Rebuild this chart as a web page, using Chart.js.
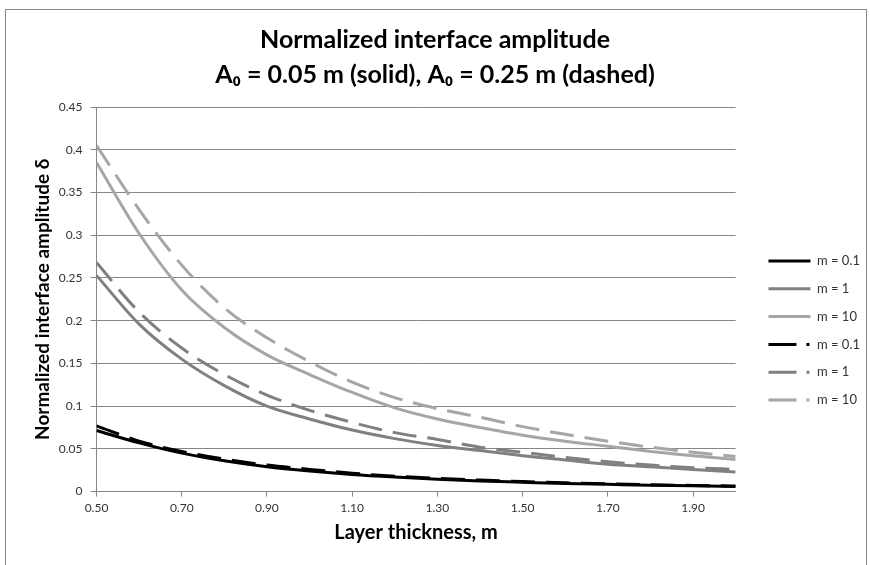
<!DOCTYPE html>
<html>
<head>
<meta charset="utf-8">
<script src="https://cdn.jsdelivr.net/npm/chart.js@4"></script>
<style>
  html, body { margin: 0; padding: 0; background: #fff; }
  #wrap { width: 870px; height: 565px; position: relative; }
</style>
</head>
<body>
<div id="wrap"><canvas id="myChart"></canvas></div>
<script>
// layer thickness (m) where the curves are sampled
const thickness = [0.5, 0.6, 0.7, 0.8, 0.9, 1.0, 1.1, 1.2, 1.3, 1.4, 1.5, 1.6, 1.7, 1.8, 1.9, 2.0];
const xTicks = [0.5, 0.7, 0.9, 1.1, 1.3, 1.5, 1.7, 1.9];

// A0 = 0.05 m (solid)
const solidM01 = [0.0715, 0.057, 0.045, 0.036, 0.029, 0.024, 0.020, 0.017, 0.0145, 0.0125, 0.011, 0.0095, 0.0085, 0.0075, 0.0067, 0.006];
const solidM1  = [0.253, 0.196, 0.155, 0.124, 0.100, 0.085, 0.072, 0.062, 0.054, 0.048, 0.042, 0.037, 0.032, 0.029, 0.026, 0.023];
const solidM10 = [0.385, 0.302, 0.236, 0.192, 0.160, 0.137, 0.116, 0.098, 0.085, 0.075, 0.066, 0.059, 0.053, 0.047, 0.042, 0.0375];

// A0 = 0.25 m (dashed)
const dashedM01 = [0.077, 0.059, 0.047, 0.038, 0.031, 0.026, 0.0215, 0.018, 0.0155, 0.0135, 0.0118, 0.0103, 0.009, 0.008, 0.0072, 0.0065];
const dashedM1  = [0.268, 0.210, 0.168, 0.137, 0.113, 0.095, 0.081, 0.069, 0.061, 0.052, 0.046, 0.040, 0.035, 0.031, 0.028, 0.026];
const dashedM10 = [0.405, 0.330, 0.265, 0.215, 0.180, 0.152, 0.128, 0.110, 0.097, 0.087, 0.076, 0.067, 0.059, 0.052, 0.046, 0.041];

const seriesNames = ['m = 0.1', 'm = 1', 'm = 10', 'm = 0.1', 'm = 1', 'm = 10'];
const seriesData = [solidM01, solidM1, solidM10, dashedM01, dashedM1, dashedM10];
const seriesColors = ['#000000', '#808080', '#a6a6a6', '#000000', '#808080', '#a6a6a6'];

const gridColor = '#868686';
Chart.defaults.font.family = 'Lato, "Liberation Sans", sans-serif';

function toPoints(values) {
    return values.map((v, i) => ({ x: thickness[i], y: v }));
}

const datasets = seriesData.map((vals, i) => ({
    label: seriesNames[i],
    data: toPoints(vals),
    borderColor: seriesColors[i],
    backgroundColor: seriesColors[i],
    borderWidth: 3,
    borderDash: i >= 3 ? [24, 11] : [],
    pointRadius: 0,
    showLine: true,
    fill: false,
    cubicInterpolationMode: 'monotone',
    order: 6 - i
}));

// white page + thin gray frame like the spreadsheet chart
const frame = {
    id: 'frame',
    beforeDraw(chart) {
        const ctx = chart.ctx;
        ctx.save();
        ctx.fillStyle = '#fff';
        ctx.fillRect(0, 0, chart.width, chart.height);
        ctx.strokeStyle = '#868686';
        ctx.lineWidth = 1;
        ctx.strokeRect(5.5, 9.5, 861, 600);
        ctx.restore();
    }
};

new Chart(document.getElementById('myChart'), {
    type: 'scatter',
    data: { datasets },
    plugins: [frame],
    options: {
        responsive: true,
        maintainAspectRatio: false,
        animation: false,
        layout: { padding: { left: 0, right: 0, top: 0, bottom: 16 } },
        plugins: {
            title: {
                display: true,
                text: ['Normalized interface amplitude', 'A\u2080 = 0.05 m (solid), A\u2080 = 0.25 m (dashed)'],
                color: '#000',
                font: { size: 25, weight: 'bold', lineHeight: 1.4 },
                padding: { top: 22.5, bottom: 14.5 }
            },
            legend: {
                position: 'right',
                fullSize: false,
                title: { display: true, text: ' ', font: { size: 12 }, padding: { top: 0, bottom: 48 } },
                labels: {
                    usePointStyle: true,
                    pointStyle: 'line',
                    pointStyleWidth: 42,
                    color: '#333',
                    font: { size: 13 },
                    padding: 14.8,
                    sort: (a, b) => a.datasetIndex - b.datasetIndex,
                    generateLabels(chart) {
                        const items = Chart.defaults.plugins.legend.labels.generateLabels(chart);
                        items.forEach(it => {
                            if (it.datasetIndex >= 3) it.lineDash = [28, 10, 3, 1];
                        });
                        return items;
                    }
                }
            },
            tooltip: { enabled: false }
        },
        scales: {
            x: {
                type: 'linear',
                min: 0.5,
                max: 2.0,
                afterBuildTicks(scale) {
                    scale.ticks = xTicks.map(v => ({ value: v }));
                },
                grid: { display: true, drawOnChartArea: false, drawTicks: true, tickLength: 5, color: gridColor },
                border: { display: true, color: gridColor },
                ticks: {
                    autoSkip: false, maxRotation: 0, padding: 4,
                    color: '#333', font: { size: 12 },
                    callback: v => Number(v).toFixed(2)
                },
                title: {
                    display: true, text: 'Layer thickness, m', color: '#000',
                    font: { size: 20, weight: 'bold' }, padding: { top: 2, bottom: 4 }
                }
            },
            y: {
                min: 0,
                max: 0.45,
                ticks: {
                    stepSize: 0.05, padding: 8, color: '#333', font: { size: 12 },
                    callback: v => String(Math.round(v * 100) / 100)
                },
                grid: { color: gridColor, tickLength: 6 },
                border: { display: true, color: gridColor },
                title: {
                    display: true, text: 'Normalized interface amplitude \u03b4', color: '#000',
                    font: { size: 19, weight: 'bold' }, padding: { top: 31, bottom: -3 }
                }
            },
            // empty spacer between plot and legend
            gap: {
                type: 'linear',
                position: 'right',
                display: true,
                grid: { display: false },
                border: { display: false },
                ticks: { display: false },
                afterFit(scale) { scale.width = 18; }
            }
        }
    }
});
</script>
</body>
</html>
